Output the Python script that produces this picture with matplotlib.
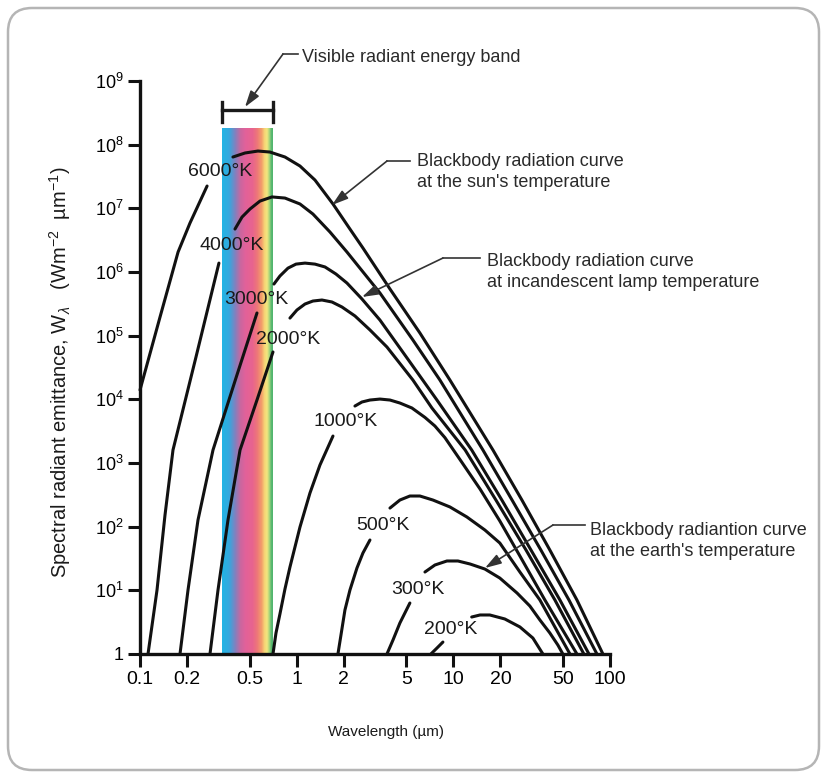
import numpy as np
import matplotlib
matplotlib.use('Agg')
import matplotlib.pyplot as plt
from matplotlib.patches import FancyBboxPatch
from matplotlib.colors import LinearSegmentedColormap
from matplotlib.lines import Line2D

plt.rcParams['font.family'] = ['Liberation Sans', 'DejaVu Sans']
plt.rcParams['mathtext.fontset'] = 'custom'
plt.rcParams['mathtext.rm'] = 'Liberation Sans'
plt.rcParams['mathtext.it'] = 'Liberation Sans:italic'
plt.rcParams['mathtext.bf'] = 'Liberation Sans:bold'

nan = np.nan

# ---------------- data (wavelength in um, emittance in W m^-2 um^-1) ----------------
temperatures = [6000, 4000, 3000, 2000, 1000, 500, 300, 200]

wl_6000 = [0.1, 0.1342, 0.175, 0.2085, 0.268, nan,
           0.392, 0.468, 0.566, 0.675, 0.842, 1.05, 1.309, 1.705, 2.188, 2.649, 3.94, 6.12, 9.51,
           17.9, 27.4, 41.3, 61.5, 90.1]
w_6000 = [1.4e4, 1.96e5, 2.06e6, 5.88e6, 2.24e7, nan,
          6.4e7, 7.4e7, 7.94e7, 7.66e7, 6.4e7, 4.62e7, 2.78e7, 1.17e7, 4.73e6, 2.38e6, 5.41e5, 1.10e5, 2.01e4,
          1600, 262, 43.0, 7.05, 1.0]

wl_4000 = [0.1125, 0.1284, 0.1444, 0.1624, 0.2277, 0.319, nan,
           0.404, 0.448, 0.5035, 0.583, 0.696, 0.842, 1.05, 1.27, 1.631, 2.094, 3.40, 5.52, 8.21,
           15.45, 23.7, 36.2, 54.7, 82.5]
w_4000 = [1.0, 10.1, 152, 1600, 4.62e4, 1.38e6, nan,
          4.73e6, 7.3e6, 9.75e6, 1.30e7, 1.51e7, 1.45e7, 1.17e7, 8.14e6, 4.25e6, 2.06e6, 4.68e5, 8.55e4, 2.01e4,
          1600, 262, 43.0, 7.05, 1.0]

wl_3000 = [0.180, 0.2025, 0.2345, 0.2924, 0.404, 0.558, nan,
           0.716, 0.782, 0.880, 0.99, 1.13, 1.309, 1.516, 1.781, 2.094, 2.61, 3.40, 5.28, 7.86,
           13.1, 20.4, 31.3, 47.9, 73.4]
w_3000 = [1.0, 10.1, 127, 1600, 1.94e4, 2.27e5, nan,
          6.47e5, 8.65e5, 1.15e6, 1.33e6, 1.38e6, 1.33e6, 1.20e6, 9.3e5, 6.71e5, 3.77e5, 1.76e5, 3.86e4, 9750,
          1600, 262, 43.0, 7.05, 1.0]

wl_2000 = [0.2797, 0.3147, 0.3644, 0.435, 0.558, 0.706, nan,
           0.906, 1.004, 1.13, 1.27, 1.45, 1.68, 1.946, 2.355, 2.936, 3.77, 5.52, 7.30,
           11.9, 18.7, 29.1, 44.5, 68.1]
w_2000 = [1.0, 10.1, 127, 1600, 9750, 5.54e4, nan,
          1.89e5, 2.53e5, 3.14e5, 3.5e5, 3.63e5, 3.38e5, 2.82e5, 2.04e5, 1.23e5, 6.63e4, 2.01e4, 7310,
          1600, 262, 43.0, 7.05, 1.0]

wl_1000 = [0.706, 0.738, 0.782, 0.842, 0.906, 1.05, 1.216, 1.408, 1.705, nan,
           2.355, 2.61, 2.936, 3.40, 3.94, 4.56, 5.44, 6.59, 7.63, 8.84, 11.3, 14.8, 19.8, 26.6, 38.4, 61.5]
w_1000 = [1.0, 2.14, 4.25, 10.5, 23.2, 98.8, 338, 929, 2650, nan,
          7850, 9080, 9750, 1.01e4, 9750, 8750, 7310, 5200, 3810, 2500, 1037, 391, 123, 34.6, 7.05, 1.0]

wl_500 = [1.834, 1.918, 2.033, 2.188, 2.425, 2.649, 2.936, nan,
          3.94, 4.56, 5.28, 6.12, 7.41, 9.51, 12.2, 15.9, 19.8, 26.6, 35.7, 55.5]
w_500 = [1.0, 1.99, 4.91, 10.1, 22.4, 38.6, 61.7, nan,
         196, 262, 303, 303, 262, 204, 142, 88.6, 55.4, 19.4, 7.05, 1.0]

wl_300 = [3.77, 4.12, 4.56, 5.28, nan,
          6.59, 7.63, 9.1, 10.7, 12.8, 15.9, 19.8, 25.5, 30.8, 35.7, 41.3, 46.5, 50.0]
w_300 = [1.0, 1.66, 3.07, 6.32, nan,
         19.4, 25.0, 28.9, 28.9, 25.9, 21.6, 15.6, 9.08, 5.67, 3.42, 2.14, 1.38, 1.0]

wl_200 = [7.19, 7.86, 8.58, nan,
          13.1, 14.8, 17.1, 21.3, 26.6, 32.2, 37.3]
w_200 = [1.0, 1.24, 1.54, nan,
         3.81, 4.10, 4.10, 3.55, 2.66, 1.78, 1.0]

curves_wl = [wl_6000, wl_4000, wl_3000, wl_2000, wl_1000, wl_500, wl_300, wl_200]
curves_w = [w_6000, w_4000, w_3000, w_2000, w_1000, w_500, w_300, w_200]

visible_band = [0.3336, 0.706]     # um
visible_band_top = 1.83e8

x_ticks = [0.1, 0.2, 0.5, 1, 2, 5, 10, 20, 50, 100]
x_tick_labels = ['0.1', '0.2', '0.5', '1', '2', '5', '10', '20', '50', '100']
y_ticks = [1, 1e1, 1e2, 1e3, 1e4, 1e5, 1e6, 1e7, 1e8, 1e9]
y_tick_labels = ['1'] + [r'$10^{%d}$' % k for k in range(1, 10)]

annotations = [
    "Visible radiant energy band",
    "Blackbody radiation curve\nat the sun's temperature",
    "Blackbody radiation curve\nat incandescent lamp temperature",
    "Blackbody radiantion curve\nat the earth's temperature",
]

# ---------------- layout (image pixel coordinates) ----------------
W, H = 821, 775
def fp(x, y):
    return (x / W, 1 - y / H)

fig = plt.figure(figsize=(W / 100, H / 100), dpi=100)
fig.patch.set_facecolor('white')

frame = FancyBboxPatch((8, 5), 811, 762, boxstyle='round,pad=0,rounding_size=24',
                       transform=None, facecolor='none', edgecolor='#b5b5b5', linewidth=1.8,
                       zorder=-5)
fig.patches.append(frame)

ax = fig.add_axes([140 / W, (H - 654) / H, 470 / W, 573 / H])
ax.set_facecolor('none')
ax.set_xscale('log')
ax.set_yscale('log')

# spectrum band
cmap = LinearSegmentedColormap.from_list('spec', [
    (0.0, '#22b4e4'), (0.09, '#35a8de'), (0.18, '#7f82c0'), (0.27, '#c8679f'),
    (0.36, '#e2619a'), (0.50, '#e8648e'), (0.60, '#ee7878'), (0.70, '#f3a06a'),
    (0.77, '#f7d676'), (0.83, '#f3e67e'), (0.89, '#a9d57c'), (0.94, '#5cba72'), (1.0, '#4cb26c')])
grad = np.linspace(0, 1, 256)[None, :]
ax.imshow(grad, cmap=cmap, extent=[visible_band[0], visible_band[1], 1, visible_band_top],
          aspect='auto', interpolation='bilinear', zorder=1)

# bracket above band
br_y, cap_lo, cap_hi = 3.5e8, 2.3e8, 4.6e8
ax.plot(visible_band, [br_y, br_y], color='#1a1a1a', lw=2.4, clip_on=False, zorder=3)
for xb in visible_band:
    ax.plot([xb, xb], [cap_lo, cap_hi], color='#1a1a1a', lw=2.4, clip_on=False, zorder=3)

# curves
for wl, w in zip(curves_wl, curves_w):
    ax.plot(wl, w, color='#111111', lw=2.2, solid_capstyle='round', solid_joinstyle='round',
            clip_on=False, zorder=3)

ax.set_xlim(0.1, 100)
ax.set_ylim(1, 1e9)
ax.set_xticks(x_ticks)
ax.set_xticklabels(x_tick_labels)
ax.set_yticks(y_ticks)
ax.set_yticklabels(y_tick_labels)
ax.xaxis.set_minor_locator(matplotlib.ticker.NullLocator())
ax.yaxis.set_minor_locator(matplotlib.ticker.NullLocator())

for s in ['top', 'right']:
    ax.spines[s].set_visible(False)
for s in ['left', 'bottom']:
    ax.spines[s].set_linewidth(2.4)
    ax.spines[s].set_color('#111111')
ax.tick_params(axis='both', direction='out', length=9, width=2.2, color='#111111', pad=3)
ax.tick_params(axis='x', labelsize=14)
ax.tick_params(axis='y', labelsize=13)

# temperature labels
label_pos = [(220, 171), (232, 245), (256, 300), (288, 339), (346, 422), (383, 526), (418, 590), (451, 630)]
for t, (lx, ly) in zip(temperatures, label_pos):
    fig.text(*fp(lx, ly), f"{t}\u00b0K", ha='center', va='center', fontsize=14, color='#1a1a1a', zorder=5)

# axis labels
fig.text(*fp(386, 732), 'Wavelength (\u00b5m)', ha='center', va='center', fontsize=11, color='#1a1a1a')
fig.text(*fp(60, 372), 'Spectral radiant emittance, W$_{\u03bb}$   (Wm$^{-2}$  \u00b5m$^{-1}$)',
         ha='center', va='center', rotation=90, fontsize=14.5, color='#1a1a1a')

# annotations with leaders: text pos, elbow start, elbow end, arrow tip
ann_geom = [
    ((302, 57), (298, 54), (283, 54), (245, 107)),
    ((417, 172), (410, 161), (387, 161), (332, 205)),
    ((487, 272), (480, 258), (443, 258), (362, 297)),
    ((590, 541), (585, 525), (553, 525), (485, 568)),
]
for txt, (tp, e0, e1, tip) in zip(annotations, ann_geom):
    fig.text(*fp(*tp), txt, ha='left', va='center', fontsize=13, color='#2a2a2a',
             linespacing=1.25)
    fig.add_artist(Line2D([e0[0] / W, e1[0] / W], [1 - e0[1] / H, 1 - e1[1] / H],
                          color='#333333', lw=1.2, transform=fig.transFigure))
    ax.annotate('', xy=fp(*tip), xycoords='figure fraction',
                xytext=fp(*e1), textcoords='figure fraction',
                arrowprops=dict(arrowstyle='-|>,head_length=0.7,head_width=0.22',
                                color='#333333', lw=1.2, shrinkA=0, shrinkB=0,
                                mutation_scale=14), annotation_clip=False)

fig.savefig('out.png', dpi=100)
